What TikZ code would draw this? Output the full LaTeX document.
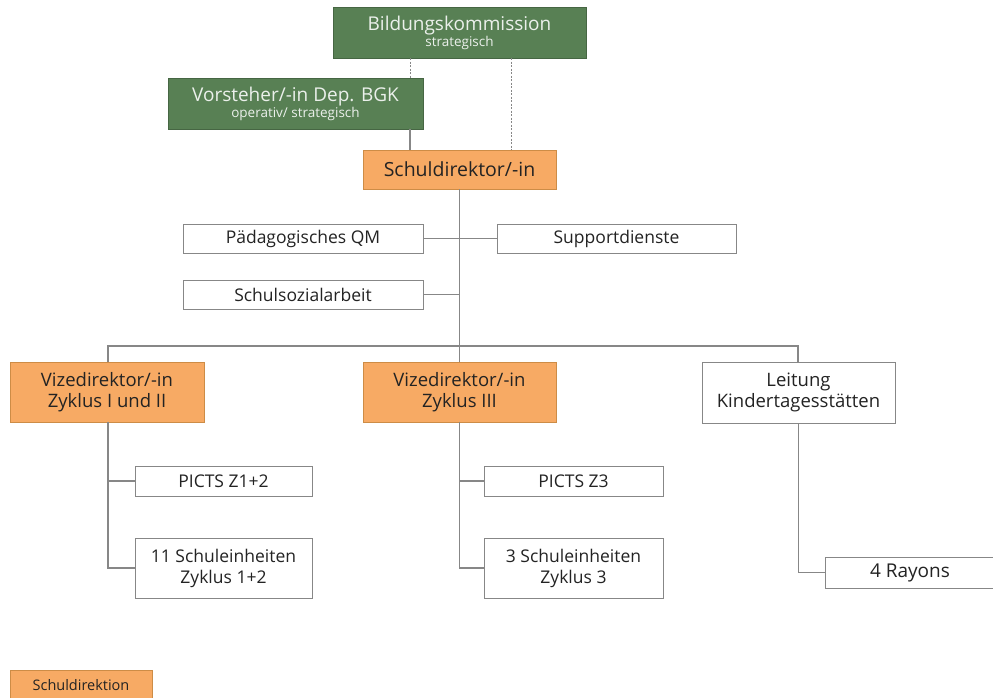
\documentclass[tikz,border=0pt]{standalone}
\usepackage{fontspec}
\setmainfont{Open Sans}
\definecolor{grn}{RGB}{88,128,84}
\definecolor{org}{RGB}{247,170,100}
\definecolor{orgb}{RGB}{205,140,70}
\definecolor{ln}{RGB}{135,135,135}
\definecolor{tx}{RGB}{35,35,35}
\definecolor{gtx}{RGB}{235,240,235}
\begin{document}
\begin{tikzpicture}[x=1pt,y=-1pt,
  base/.style={draw=ln,line width=1pt,inner sep=0pt,outer sep=0pt,align=center,text=tx,
    font=\fontsize{17.5}{21}\selectfont},
  wbox/.style={base,fill=white},
  gbox/.style={base,fill=grn,draw=grn!80!black,text=gtx,font=\fontsize{19}{17}\selectfont},
  obox/.style={base,fill=org,draw=orgb,font=\fontsize{18.5}{21}\selectfont},
  con/.style={draw=ln,line width=1.1pt},
  dcon/.style={draw=ln,line width=0.8pt,dash pattern=on 2pt off 1.5pt}]
\useasboundingbox (0,0) rectangle (993,697);
% nodes
\node[gbox,minimum width=253pt,minimum height=51pt] (bk) at (459.5,32.5)
  {Bildungskommission\\[-1pt]{\fontsize{13.5}{13}\selectfont strategisch}};
\node[gbox,minimum width=255pt,minimum height=51pt] (vs) at (295.5,103.5)
  {Vorsteher/-in Dep. BGK\\[-1pt]{\fontsize{13.5}{13}\selectfont operativ/ strategisch}};
\node[obox,minimum width=193pt,minimum height=39pt,font=\fontsize{19.5}{21}\selectfont] (sd) at (459.5,169.5) {Schuldirektor/-in};
\node[wbox,minimum width=240pt,minimum height=29pt] (pqm) at (303,238.5) {Pädagogisches QM};
\node[wbox,minimum width=239pt,minimum height=29pt] (sup) at (616.5,238.5) {Supportdienste};
\node[wbox,minimum width=240pt,minimum height=29pt] (ssa) at (303,294.5) {Schulsozialarbeit};
\node[obox,minimum width=194pt,minimum height=60pt] (v1) at (107,392) {Vizedirektor/-in\\Zyklus I und II};
\node[obox,minimum width=193pt,minimum height=60pt] (v3) at (459.5,392) {Vizedirektor/-in\\Zyklus III};
\node[wbox,minimum width=193pt,minimum height=61pt,font=\fontsize{18.5}{21}\selectfont] (kita) at (798.5,392.5) {Leitung\\Kindertagesstätten};
\node[wbox,minimum width=177pt,minimum height=30pt] (p12) at (223.5,481) {PICTS Z1+2};
\node[wbox,minimum width=177pt,minimum height=60pt] (s12) at (223.5,568) {11 Schuleinheiten\\Zyklus 1+2};
\node[wbox,minimum width=179pt,minimum height=30pt] (p3) at (573.5,481) {PICTS Z3};
\node[wbox,minimum width=179pt,minimum height=60pt] (s3) at (573.5,568) {3 Schuleinheiten\\Zyklus 3};
\node[wbox,minimum width=170pt,minimum height=31pt,font=\fontsize{19}{21}\selectfont] (ray) at (910,572.5) {4 Rayons};
\node[obox,minimum width=142pt,minimum height=30pt,font=\fontsize{14.5}{16}\selectfont] (leg) at (81,685) {Schuldirektion};
% coordinates
\coordinate (hl) at (108,346);
\coordinate (hr) at (798,346);
% connectors
\draw[dcon] (bk.south -| 410,0) -- (vs.north -| 410,0);
\draw[dcon] (bk.south -| 511,0) -- (sd.north -| 511,0);
\draw[con] (vs.south -| 410,0) -- (sd.north -| 410,0);
\draw[con] (sd.south) -- (v3.north);
\draw[con] (pqm.east) -- (sup.west);
\draw[con] (ssa.east) -- (ssa.east -| sd.south);
\draw[con] (v1.north -| hl) -- (hl) -- (hr) -- (kita.north -| hr);
\draw[con] (v1.south -| 108,0) |- (p12.west);
\draw[con] (v1.south -| 108,0) |- (s12.west);
\draw[con] (v3.south) |- (p3.west);
\draw[con] (v3.south) |- (s3.west);
\draw[con] (kita.south) |- (ray.west);
\end{tikzpicture}
\end{document}
